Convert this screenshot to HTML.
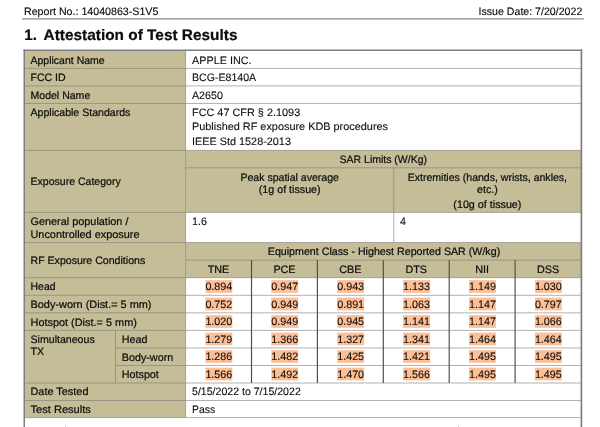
<!DOCTYPE html>
<html lang="en">
<head>
<meta charset="utf-8">
<title>Attestation of Test Results</title>
<style>
html,body{margin:0;padding:0;background:#fff;}
body{width:600px;height:427px;overflow:hidden;}
svg{display:block;}
svg text{text-rendering:geometricPrecision;font-family:"Liberation Sans",sans-serif;fill:#0d0d0d;stroke:#0d0d0d;stroke-width:0.22px;}
svg text.n{stroke-width:0.1px;}
svg text.h{stroke-width:0.14px;}
</style>
</head>
<body>
<svg width="600" height="427" viewBox="0 0 600 427">
<rect x="24.25" y="50.30" width="161.35" height="367.30" fill="#C4BD97"/>
<rect x="185.60" y="150.40" width="395.80" height="62.00" fill="#C4BD97"/>
<rect x="185.60" y="242.55" width="395.80" height="35.15" fill="#C4BD97"/>
<text x="24.00" y="14.60" font-size="10.78" text-anchor="start" font-weight="normal" textLength="134.36" lengthAdjust="spacingAndGlyphs" class="h">Report No.: 14040863-S1V5</text>
<text x="582.30" y="14.60" font-size="10.78" text-anchor="end" font-weight="normal" textLength="103.76" lengthAdjust="spacingAndGlyphs" class="h">Issue Date: 7/20/2022</text>
<line x1="22.00" y1="18.90" x2="583.80" y2="18.90" stroke="#8a8a8a" stroke-width="1.2"/>
<text x="24.20" y="39.50" font-size="15.2" text-anchor="start" font-weight="bold" textLength="12.67" lengthAdjust="spacingAndGlyphs">1.</text>
<text x="43.60" y="39.50" font-size="15.2" text-anchor="start" font-weight="bold" textLength="193.88" lengthAdjust="spacingAndGlyphs">Attestation of Test Results</text>
<line x1="24.25" y1="68.40" x2="581.40" y2="68.40" stroke="#7c7c7c" stroke-width="0.6"/>
<line x1="24.25" y1="85.90" x2="581.40" y2="85.90" stroke="#7c7c7c" stroke-width="0.6"/>
<line x1="24.25" y1="103.45" x2="581.40" y2="103.45" stroke="#7c7c7c" stroke-width="0.6"/>
<line x1="24.25" y1="150.40" x2="581.40" y2="150.40" stroke="#7c7c7c" stroke-width="0.6"/>
<line x1="185.60" y1="167.80" x2="581.40" y2="167.80" stroke="#7c7c7c" stroke-width="0.6"/>
<line x1="24.25" y1="212.40" x2="581.40" y2="212.40" stroke="#7c7c7c" stroke-width="0.6"/>
<line x1="24.25" y1="242.55" x2="581.40" y2="242.55" stroke="#7c7c7c" stroke-width="0.6"/>
<line x1="185.60" y1="260.15" x2="581.40" y2="260.15" stroke="#7c7c7c" stroke-width="0.6"/>
<line x1="24.25" y1="277.70" x2="581.40" y2="277.70" stroke="#7c7c7c" stroke-width="0.6"/>
<line x1="24.25" y1="295.30" x2="581.40" y2="295.30" stroke="#7c7c7c" stroke-width="0.6"/>
<line x1="24.25" y1="312.85" x2="581.40" y2="312.85" stroke="#7c7c7c" stroke-width="0.6"/>
<line x1="24.25" y1="330.40" x2="581.40" y2="330.40" stroke="#7c7c7c" stroke-width="0.6"/>
<line x1="115.50" y1="347.95" x2="581.40" y2="347.95" stroke="#7c7c7c" stroke-width="0.6"/>
<line x1="115.50" y1="365.50" x2="581.40" y2="365.50" stroke="#7c7c7c" stroke-width="0.6"/>
<line x1="24.25" y1="383.00" x2="581.40" y2="383.00" stroke="#7c7c7c" stroke-width="0.6"/>
<line x1="24.25" y1="400.50" x2="581.40" y2="400.50" stroke="#7c7c7c" stroke-width="0.6"/>
<line x1="24.25" y1="417.60" x2="581.40" y2="417.60" stroke="#7c7c7c" stroke-width="0.6"/>
<line x1="185.60" y1="50.30" x2="185.60" y2="330.40" stroke="#7c7c7c" stroke-width="0.6"/>
<line x1="185.60" y1="383.00" x2="185.60" y2="417.60" stroke="#7c7c7c" stroke-width="0.6"/>
<line x1="393.75" y1="167.80" x2="393.75" y2="242.55" stroke="#7c7c7c" stroke-width="0.6"/>
<line x1="115.50" y1="330.40" x2="115.50" y2="383.00" stroke="#7c7c7c" stroke-width="0.6"/>
<line x1="185.60" y1="330.40" x2="185.60" y2="383.00" stroke="#7c7c7c" stroke-width="0.6"/>
<line x1="251.50" y1="260.15" x2="251.50" y2="383.00" stroke="#4c4c4c" stroke-width="1.15"/>
<line x1="317.40" y1="260.15" x2="317.40" y2="383.00" stroke="#4c4c4c" stroke-width="1.15"/>
<line x1="383.30" y1="260.15" x2="383.30" y2="383.00" stroke="#4c4c4c" stroke-width="1.15"/>
<line x1="449.20" y1="260.15" x2="449.20" y2="383.00" stroke="#4c4c4c" stroke-width="1.15"/>
<line x1="515.10" y1="260.15" x2="515.10" y2="383.00" stroke="#4c4c4c" stroke-width="1.15"/>
<line x1="24.25" y1="49.50" x2="24.25" y2="427.00" stroke="#7f7f7f" stroke-width="1.5"/>
<line x1="581.40" y1="49.50" x2="581.40" y2="427.00" stroke="#7f7f7f" stroke-width="1.7"/>
<line x1="23.50" y1="50.30" x2="582.15" y2="50.30" stroke="#7f7f7f" stroke-width="1.5"/>
<text x="30.50" y="63.75" font-size="10.78" text-anchor="start" font-weight="normal" textLength="74.18" lengthAdjust="spacingAndGlyphs">Applicant Name</text>
<text x="192.00" y="63.55" font-size="10.78" text-anchor="start" font-weight="normal" textLength="59.53" lengthAdjust="spacingAndGlyphs" class="n">APPLE INC.</text>
<text x="30.50" y="81.25" font-size="10.78" text-anchor="start" font-weight="normal" textLength="35.14" lengthAdjust="spacingAndGlyphs">FCC ID</text>
<text x="192.00" y="81.05" font-size="10.78" text-anchor="start" font-weight="normal" textLength="64.13" lengthAdjust="spacingAndGlyphs" class="n">BCG-E8140A</text>
<text x="30.50" y="98.75" font-size="10.78" text-anchor="start" font-weight="normal" textLength="59.75" lengthAdjust="spacingAndGlyphs">Model Name</text>
<text x="192.00" y="98.55" font-size="10.78" text-anchor="start" font-weight="normal" textLength="30.89" lengthAdjust="spacingAndGlyphs" class="n">A2650</text>
<text x="30.50" y="116.25" font-size="10.78" text-anchor="start" font-weight="normal" textLength="99.82" lengthAdjust="spacingAndGlyphs">Applicable Standards</text>
<text x="192.00" y="116.05" font-size="10.78" text-anchor="start" font-weight="normal" textLength="108.18" lengthAdjust="spacingAndGlyphs" class="n">FCC 47 CFR § 2.1093</text>
<text x="192.00" y="130.40" font-size="10.78" text-anchor="start" font-weight="normal" textLength="196.02" lengthAdjust="spacingAndGlyphs" class="n">Published RF exposure KDB procedures</text>
<text x="192.00" y="144.80" font-size="10.78" text-anchor="start" font-weight="normal" textLength="98.96" lengthAdjust="spacingAndGlyphs" class="n">IEEE Std 1528-2013</text>
<text x="30.50" y="185.40" font-size="10.78" text-anchor="start" font-weight="normal" textLength="90.22" lengthAdjust="spacingAndGlyphs">Exposure Category</text>
<text x="383.30" y="162.50" font-size="10.78" text-anchor="middle" font-weight="normal" textLength="87.49" lengthAdjust="spacingAndGlyphs">SAR Limits (W/Kg)</text>
<text x="289.68" y="180.75" font-size="10.78" text-anchor="middle" font-weight="normal" textLength="98.44" lengthAdjust="spacingAndGlyphs">Peak spatial average</text>
<text x="289.68" y="193.25" font-size="10.78" text-anchor="middle" font-weight="normal" textLength="61.86" lengthAdjust="spacingAndGlyphs">(1g of tissue)</text>
<text x="487.38" y="180.75" font-size="10.78" text-anchor="middle" font-weight="normal" textLength="159.32" lengthAdjust="spacingAndGlyphs">Extremities (hands, wrists, ankles,</text>
<text x="487.38" y="193.25" font-size="10.78" text-anchor="middle" font-weight="normal" textLength="20.62" lengthAdjust="spacingAndGlyphs">etc.)</text>
<text x="487.38" y="207.50" font-size="10.78" text-anchor="middle" font-weight="normal" textLength="68.08" lengthAdjust="spacingAndGlyphs">(10g of tissue)</text>
<text x="30.50" y="225.30" font-size="10.78" text-anchor="start" font-weight="normal" textLength="97.94" lengthAdjust="spacingAndGlyphs">General population /</text>
<text x="30.50" y="238.40" font-size="10.78" text-anchor="start" font-weight="normal" textLength="109.03" lengthAdjust="spacingAndGlyphs">Uncontrolled exposure</text>
<text x="192.00" y="224.80" font-size="10.78" text-anchor="start" font-weight="normal" textLength="14.97" lengthAdjust="spacingAndGlyphs" class="n">1.6</text>
<text x="400.00" y="224.80" font-size="10.78" text-anchor="start" font-weight="normal" textLength="6.00" lengthAdjust="spacingAndGlyphs" class="n">4</text>
<text x="30.50" y="264.00" font-size="10.78" text-anchor="start" font-weight="normal" textLength="114.70" lengthAdjust="spacingAndGlyphs">RF Exposure Conditions</text>
<text x="384.00" y="255.00" font-size="10.78" text-anchor="middle" font-weight="normal" textLength="232.44" lengthAdjust="spacingAndGlyphs">Equipment Class - Highest Reported SAR (W/kg)</text>
<text x="218.55" y="273.00" font-size="10.78" text-anchor="middle" font-weight="normal" textLength="21.55" lengthAdjust="spacingAndGlyphs">TNE</text>
<text x="284.45" y="273.00" font-size="10.78" text-anchor="middle" font-weight="normal" textLength="22.14" lengthAdjust="spacingAndGlyphs">PCE</text>
<text x="350.35" y="273.00" font-size="10.78" text-anchor="middle" font-weight="normal" textLength="22.14" lengthAdjust="spacingAndGlyphs">CBE</text>
<text x="416.25" y="273.00" font-size="10.78" text-anchor="middle" font-weight="normal" textLength="21.55" lengthAdjust="spacingAndGlyphs">DTS</text>
<text x="482.15" y="273.00" font-size="10.78" text-anchor="middle" font-weight="normal" textLength="13.77" lengthAdjust="spacingAndGlyphs">NII</text>
<text x="548.05" y="273.00" font-size="10.78" text-anchor="middle" font-weight="normal" textLength="22.14" lengthAdjust="spacingAndGlyphs">DSS</text>
<rect x="205.40" y="280.15" width="26.90" height="12.70" fill="#FDBF96"/>
<text x="218.85" y="290.35" font-size="10.78" text-anchor="middle" font-weight="normal" textLength="26.95" lengthAdjust="spacingAndGlyphs" class="n">0.894</text>
<rect x="271.30" y="280.15" width="26.90" height="12.70" fill="#FDBF96"/>
<text x="284.75" y="290.35" font-size="10.78" text-anchor="middle" font-weight="normal" textLength="26.95" lengthAdjust="spacingAndGlyphs" class="n">0.947</text>
<rect x="337.20" y="280.15" width="26.90" height="12.70" fill="#FDBF96"/>
<text x="350.65" y="290.35" font-size="10.78" text-anchor="middle" font-weight="normal" textLength="26.95" lengthAdjust="spacingAndGlyphs" class="n">0.943</text>
<rect x="403.10" y="280.15" width="26.90" height="12.70" fill="#FDBF96"/>
<text x="416.55" y="290.35" font-size="10.78" text-anchor="middle" font-weight="normal" textLength="26.95" lengthAdjust="spacingAndGlyphs" class="n">1.133</text>
<rect x="469.00" y="280.15" width="26.90" height="12.70" fill="#FDBF96"/>
<text x="482.45" y="290.35" font-size="10.78" text-anchor="middle" font-weight="normal" textLength="26.95" lengthAdjust="spacingAndGlyphs" class="n">1.149</text>
<rect x="534.90" y="280.15" width="26.90" height="12.70" fill="#FDBF96"/>
<text x="548.35" y="290.35" font-size="10.78" text-anchor="middle" font-weight="normal" textLength="26.95" lengthAdjust="spacingAndGlyphs" class="n">1.030</text>
<rect x="205.40" y="297.65" width="26.90" height="12.70" fill="#FDBF96"/>
<text x="218.85" y="307.85" font-size="10.78" text-anchor="middle" font-weight="normal" textLength="26.95" lengthAdjust="spacingAndGlyphs" class="n">0.752</text>
<rect x="271.30" y="297.65" width="26.90" height="12.70" fill="#FDBF96"/>
<text x="284.75" y="307.85" font-size="10.78" text-anchor="middle" font-weight="normal" textLength="26.95" lengthAdjust="spacingAndGlyphs" class="n">0.949</text>
<rect x="337.20" y="297.65" width="26.90" height="12.70" fill="#FDBF96"/>
<text x="350.65" y="307.85" font-size="10.78" text-anchor="middle" font-weight="normal" textLength="26.95" lengthAdjust="spacingAndGlyphs" class="n">0.891</text>
<rect x="403.10" y="297.65" width="26.90" height="12.70" fill="#FDBF96"/>
<text x="416.55" y="307.85" font-size="10.78" text-anchor="middle" font-weight="normal" textLength="26.95" lengthAdjust="spacingAndGlyphs" class="n">1.063</text>
<rect x="469.00" y="297.65" width="26.90" height="12.70" fill="#FDBF96"/>
<text x="482.45" y="307.85" font-size="10.78" text-anchor="middle" font-weight="normal" textLength="26.95" lengthAdjust="spacingAndGlyphs" class="n">1.147</text>
<rect x="534.90" y="297.65" width="26.90" height="12.70" fill="#FDBF96"/>
<text x="548.35" y="307.85" font-size="10.78" text-anchor="middle" font-weight="normal" textLength="26.95" lengthAdjust="spacingAndGlyphs" class="n">0.797</text>
<rect x="205.40" y="315.15" width="26.90" height="12.70" fill="#FDBF96"/>
<text x="218.85" y="325.35" font-size="10.78" text-anchor="middle" font-weight="normal" textLength="26.95" lengthAdjust="spacingAndGlyphs" class="n">1.020</text>
<rect x="271.30" y="315.15" width="26.90" height="12.70" fill="#FDBF96"/>
<text x="284.75" y="325.35" font-size="10.78" text-anchor="middle" font-weight="normal" textLength="26.95" lengthAdjust="spacingAndGlyphs" class="n">0.949</text>
<rect x="337.20" y="315.15" width="26.90" height="12.70" fill="#FDBF96"/>
<text x="350.65" y="325.35" font-size="10.78" text-anchor="middle" font-weight="normal" textLength="26.95" lengthAdjust="spacingAndGlyphs" class="n">0.945</text>
<rect x="403.10" y="315.15" width="26.90" height="12.70" fill="#FDBF96"/>
<text x="416.55" y="325.35" font-size="10.78" text-anchor="middle" font-weight="normal" textLength="26.95" lengthAdjust="spacingAndGlyphs" class="n">1.141</text>
<rect x="469.00" y="315.15" width="26.90" height="12.70" fill="#FDBF96"/>
<text x="482.45" y="325.35" font-size="10.78" text-anchor="middle" font-weight="normal" textLength="26.95" lengthAdjust="spacingAndGlyphs" class="n">1.147</text>
<rect x="534.90" y="315.15" width="26.90" height="12.70" fill="#FDBF96"/>
<text x="548.35" y="325.35" font-size="10.78" text-anchor="middle" font-weight="normal" textLength="26.95" lengthAdjust="spacingAndGlyphs" class="n">1.066</text>
<rect x="205.40" y="332.65" width="26.90" height="12.70" fill="#FDBF96"/>
<text x="218.85" y="342.85" font-size="10.78" text-anchor="middle" font-weight="normal" textLength="26.95" lengthAdjust="spacingAndGlyphs" class="n">1.279</text>
<rect x="271.30" y="332.65" width="26.90" height="12.70" fill="#FDBF96"/>
<text x="284.75" y="342.85" font-size="10.78" text-anchor="middle" font-weight="normal" textLength="26.95" lengthAdjust="spacingAndGlyphs" class="n">1.366</text>
<rect x="337.20" y="332.65" width="26.90" height="12.70" fill="#FDBF96"/>
<text x="350.65" y="342.85" font-size="10.78" text-anchor="middle" font-weight="normal" textLength="26.95" lengthAdjust="spacingAndGlyphs" class="n">1.327</text>
<rect x="403.10" y="332.65" width="26.90" height="12.70" fill="#FDBF96"/>
<text x="416.55" y="342.85" font-size="10.78" text-anchor="middle" font-weight="normal" textLength="26.95" lengthAdjust="spacingAndGlyphs" class="n">1.341</text>
<rect x="469.00" y="332.65" width="26.90" height="12.70" fill="#FDBF96"/>
<text x="482.45" y="342.85" font-size="10.78" text-anchor="middle" font-weight="normal" textLength="26.95" lengthAdjust="spacingAndGlyphs" class="n">1.464</text>
<rect x="534.90" y="332.65" width="26.90" height="12.70" fill="#FDBF96"/>
<text x="548.35" y="342.85" font-size="10.78" text-anchor="middle" font-weight="normal" textLength="26.95" lengthAdjust="spacingAndGlyphs" class="n">1.464</text>
<rect x="205.40" y="350.15" width="26.90" height="12.70" fill="#FDBF96"/>
<text x="218.85" y="360.35" font-size="10.78" text-anchor="middle" font-weight="normal" textLength="26.95" lengthAdjust="spacingAndGlyphs" class="n">1.286</text>
<rect x="271.30" y="350.15" width="26.90" height="12.70" fill="#FDBF96"/>
<text x="284.75" y="360.35" font-size="10.78" text-anchor="middle" font-weight="normal" textLength="26.95" lengthAdjust="spacingAndGlyphs" class="n">1.482</text>
<rect x="337.20" y="350.15" width="26.90" height="12.70" fill="#FDBF96"/>
<text x="350.65" y="360.35" font-size="10.78" text-anchor="middle" font-weight="normal" textLength="26.95" lengthAdjust="spacingAndGlyphs" class="n">1.425</text>
<rect x="403.10" y="350.15" width="26.90" height="12.70" fill="#FDBF96"/>
<text x="416.55" y="360.35" font-size="10.78" text-anchor="middle" font-weight="normal" textLength="26.95" lengthAdjust="spacingAndGlyphs" class="n">1.421</text>
<rect x="469.00" y="350.15" width="26.90" height="12.70" fill="#FDBF96"/>
<text x="482.45" y="360.35" font-size="10.78" text-anchor="middle" font-weight="normal" textLength="26.95" lengthAdjust="spacingAndGlyphs" class="n">1.495</text>
<rect x="534.90" y="350.15" width="26.90" height="12.70" fill="#FDBF96"/>
<text x="548.35" y="360.35" font-size="10.78" text-anchor="middle" font-weight="normal" textLength="26.95" lengthAdjust="spacingAndGlyphs" class="n">1.495</text>
<rect x="205.40" y="367.65" width="26.90" height="12.70" fill="#FDBF96"/>
<text x="218.85" y="377.85" font-size="10.78" text-anchor="middle" font-weight="normal" textLength="26.95" lengthAdjust="spacingAndGlyphs" class="n">1.566</text>
<rect x="271.30" y="367.65" width="26.90" height="12.70" fill="#FDBF96"/>
<text x="284.75" y="377.85" font-size="10.78" text-anchor="middle" font-weight="normal" textLength="26.95" lengthAdjust="spacingAndGlyphs" class="n">1.492</text>
<rect x="337.20" y="367.65" width="26.90" height="12.70" fill="#FDBF96"/>
<text x="350.65" y="377.85" font-size="10.78" text-anchor="middle" font-weight="normal" textLength="26.95" lengthAdjust="spacingAndGlyphs" class="n">1.470</text>
<rect x="403.10" y="367.65" width="26.90" height="12.70" fill="#FDBF96"/>
<text x="416.55" y="377.85" font-size="10.78" text-anchor="middle" font-weight="normal" textLength="26.95" lengthAdjust="spacingAndGlyphs" class="n">1.566</text>
<rect x="469.00" y="367.65" width="26.90" height="12.70" fill="#FDBF96"/>
<text x="482.45" y="377.85" font-size="10.78" text-anchor="middle" font-weight="normal" textLength="26.95" lengthAdjust="spacingAndGlyphs" class="n">1.495</text>
<rect x="534.90" y="367.65" width="26.90" height="12.70" fill="#FDBF96"/>
<text x="548.35" y="377.85" font-size="10.78" text-anchor="middle" font-weight="normal" textLength="26.95" lengthAdjust="spacingAndGlyphs" class="n">1.495</text>
<text x="30.50" y="290.20" font-size="10.78" text-anchor="start" font-weight="normal" textLength="25.05" lengthAdjust="spacingAndGlyphs">Head</text>
<text x="30.50" y="308.00" font-size="10.78" text-anchor="start" font-weight="normal" textLength="121.01" lengthAdjust="spacingAndGlyphs">Body-worn (Dist.= 5 mm)</text>
<text x="30.50" y="325.50" font-size="10.78" text-anchor="start" font-weight="normal" textLength="106.36" lengthAdjust="spacingAndGlyphs">Hotspot (Dist.= 5 mm)</text>
<text x="30.50" y="343.00" font-size="10.78" text-anchor="start" font-weight="normal" textLength="64.19" lengthAdjust="spacingAndGlyphs">Simultaneous</text>
<text x="30.50" y="355.30" font-size="10.78" text-anchor="start" font-weight="normal" textLength="13.55" lengthAdjust="spacingAndGlyphs">TX</text>
<text x="121.75" y="343.00" font-size="10.78" text-anchor="start" font-weight="normal" textLength="25.75" lengthAdjust="spacingAndGlyphs">Head</text>
<text x="121.75" y="360.50" font-size="10.78" text-anchor="start" font-weight="normal" textLength="51.47" lengthAdjust="spacingAndGlyphs">Body-worn</text>
<text x="121.75" y="378.00" font-size="10.78" text-anchor="start" font-weight="normal" textLength="37.11" lengthAdjust="spacingAndGlyphs">Hotspot</text>
<text x="30.50" y="395.20" font-size="10.78" text-anchor="start" font-weight="normal" textLength="57.95" lengthAdjust="spacingAndGlyphs">Date Tested</text>
<text x="192.00" y="395.00" font-size="10.78" text-anchor="start" font-weight="normal" textLength="108.76" lengthAdjust="spacingAndGlyphs" class="n">5/15/2022 to 7/15/2022</text>
<text x="30.50" y="412.70" font-size="10.78" text-anchor="start" font-weight="normal" textLength="60.34" lengthAdjust="spacingAndGlyphs">Test Results</text>
<text x="192.00" y="412.50" font-size="10.78" text-anchor="start" font-weight="normal" textLength="23.22" lengthAdjust="spacingAndGlyphs" class="n">Pass</text>
<rect x="65.00" y="426.00" width="0.70" height="1.00" fill="#a8a8a8"/>
<rect x="458.00" y="426.00" width="0.70" height="1.00" fill="#b0b0b0"/>
</svg>
</body>
</html>
